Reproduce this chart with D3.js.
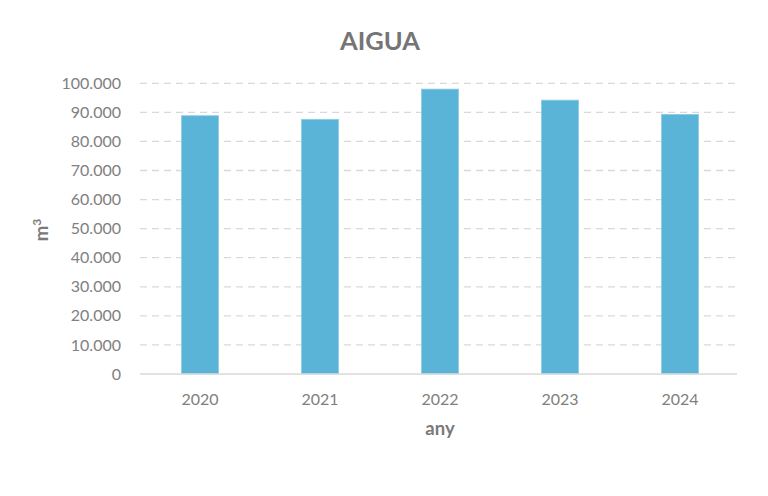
<!DOCTYPE html>
<html lang="ca">
<head>
<meta charset="UTF-8">
<style>
  body { margin: 0; background: #fff; }
  text { font-family: Lato, "Open Sans", sans-serif; }
</style>
</head>
<body>
<script src="https://d3js.org/d3.v7.min.js"></script>
<script>
var years = ['2020', '2021', '2022', '2023', '2024'];
var consum = [88850, 87600, 98000, 94200, 89300];
var yTicks = [0, 10000, 20000, 30000, 40000, 50000, 60000, 70000, 80000, 90000, 100000];

var width = 768, height = 496;
var svg = d3.select('body').append('svg').attr('width', width).attr('height', height);

var x = d3.scaleBand().domain(years).range([140, 740]).paddingInner(0.69).paddingOuter(0.345);
var y = d3.scaleLinear().domain([0, 100000]).range([374, 83.3]);

var fmt = function(v){ return d3.format(',')(v).replace(/,/g, '.'); };

// graella
svg.append('g').selectAll('line')
    .data(yTicks.filter(function(d){ return d > 0; })).enter()
    .append('line')
        .attr('x1', 140).attr('x2', 737)
        .attr('y1', function(d){ return y(d); })
        .attr('y2', function(d){ return y(d); })
        .attr('stroke', '#d9d9d9')
        .attr('stroke-width', 1.3)
        .attr('stroke-dasharray', '7,5');

svg.append('g').selectAll('rect')
    .data(years).enter()
    .append('rect')
        .attr('x', function(d){ return x(d); })
        .attr('y', function(d, i){ return y(consum[i]); })
        .attr('width', x.bandwidth())
        .attr('height', function(d, i){ return y(0) - y(consum[i]); })
        .attr('fill', '#5ab4d8')
        .attr('stroke', '#8ccde6')
        .attr('stroke-width', 0.8);

// eix x
svg.append('line')
    .attr('x1', 140).attr('x2', 737)
    .attr('y1', y(0)).attr('y2', y(0))
    .attr('stroke', '#d9d9d9').attr('stroke-width', 1.5);

svg.append('g').selectAll('text')
    .data(yTicks).enter()
    .append('text')
        .attr('x', 121)
        .attr('y', function(d){ return y(d); })
        .attr('dy', '0.35em')
        .attr('text-anchor', 'end')
        .attr('font-size', 16)
        .attr('fill', '#808080')
        .text(fmt);

svg.append('g').selectAll('text')
    .data(years).enter()
    .append('text')
        .attr('x', function(d){ return x(d) + x.bandwidth() / 2; })
        .attr('y', 405)
        .attr('text-anchor', 'middle')
        .attr('font-size', 16)
        .attr('fill', '#808080')
        .text(function(d){ return d; });

svg.append('text')
    .attr('x', 440).attr('y', 435)
    .attr('text-anchor', 'middle')
    .attr('font-size', 18.5)
    .attr('font-weight', 'bold')
    .attr('fill', '#7a7a7a')
    .text('any');

var yl = svg.append('text')
    .attr('transform', 'translate(48,230) rotate(-90)')
    .attr('text-anchor', 'middle')
    .attr('font-size', 18.5)
    .attr('font-weight', 'bold')
    .attr('fill', '#7a7a7a');
yl.append('tspan').text('m');
yl.append('tspan').attr('baseline-shift', 'super').attr('font-size', 12).text('3');

svg.append('text')
    .attr('x', 380).attr('y', 50)
    .attr('text-anchor', 'middle')
    .attr('font-size', 25.5)
    .attr('font-weight', 'bold')
    .attr('fill', '#757575')
    .text('AIGUA');
</script>
</body>
</html>
